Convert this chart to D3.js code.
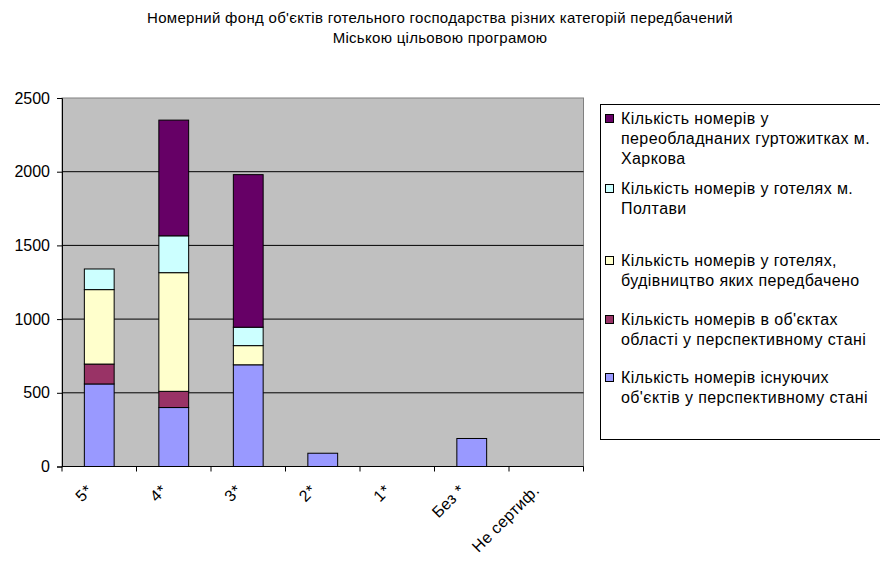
<!DOCTYPE html>
<html>
<head>
<meta charset="utf-8">
<script src="https://cdn.jsdelivr.net/npm/d3@7"></script>
<style>
  body { margin: 0; background: #fff; }
  svg { display: block; font-family: "Liberation Sans", Arial, sans-serif; }
</style>
</head>
<body>
<svg id="chart" width="880" height="565"></svg>
<script>
// Categories on the x axis
var categories = ["5*", "4*", "3*", "2*", "1*", "Без *", "Не сертиф."];
// Series values, bottom of the stack first
var existingRooms = [560, 400, 690, 90, 0, 190, 0];
var oblastRooms = [135, 110, 0, 0, 0, 0, 0];
var plannedRooms = [505, 805, 130, 0, 0, 0, 0];
var poltavaRooms = [140, 250, 125, 0, 0, 0, 0];
var kharkivRooms = [0, 785, 1035, 0, 0, 0, 0];
var yTicks = [0, 500, 1000, 1500, 2000, 2500];

var seriesNames = [
	"Кількість номерів існуючих об'єктів у перспективному стані",
	"Кількість номерів в об'єктах області у перспективному стані",
	"Кількість номерів у готелях, будівництво яких передбачено",
	"Кількість номерів у готелях м. Полтави",
	"Кількість номерів у переобладнаних гуртожитках м. Харкова"
];
// legend text broken the way the picture breaks it
var legendLines = [
	["Кількість номерів існуючих", "об'єктів у перспективному стані"],
	["Кількість номерів в об'єктах", "області у перспективному стані"],
	["Кількість номерів у готелях,", "будівництво яких передбачено"],
	["Кількість номерів у готелях м.", "Полтави"],
	["Кількість номерів у", "переобладнаних гуртожитках м.", "Харкова"]
];
var seriesColors = ["#9999ff", "#993366", "#ffffcc", "#ccffff", "#660066"];
var titleLines = [
	"Номерний фонд об'єктів готельного господарства різних категорій передбачений",
	"Міською цільовою програмою"
];

function draw() {
	const svg = d3.select("#chart");
	const left = 62, right = 583.5, top = 98, bottom = 466.5;

	// Title
	svg.append("g")
		.selectAll("text")
		.data(titleLines)
		.join("text")
		.attr("x", 440)
		.attr("y", (d, i) => 23 + i * 20)
		.attr("text-anchor", "middle")
		.attr("font-size", 15)
		.attr("letter-spacing", 0.3)
		.attr("fill", "#000")
		.text(d => d);

	// Build the table for the stack
	const keys = ["existing", "oblast", "planned", "poltava", "kharkiv"];
	const cols = [existingRooms, oblastRooms, plannedRooms, poltavaRooms, kharkivRooms];
	const rows = categories.map((c, i) => {
		let r = {cat: c};
		keys.forEach((k, j) => r[k] = cols[j][i]);
		return r;
	});
	const stacked = d3.stack().keys(keys)(rows);

	const y = d3.scaleLinear().domain([0, 2500]).range([bottom, top]);
	const x = d3.scaleBand().domain(categories).range([left, right])
		.paddingInner(0.6).paddingOuter(0.3);
	const xCat = d3.scaleBand().domain(categories).range([left, right]);

	// Plot area
	svg.append("rect")
		.attr("x", left).attr("y", top)
		.attr("width", right - left).attr("height", bottom - top)
		.attr("fill", "#c0c0c0")
		.attr("stroke", "#808080");

	// Gridlines
	svg.append("g")
		.selectAll("line")
		.data(yTicks.filter(t => t > 0 && t < 2500))
		.join("line")
		.attr("x1", left).attr("x2", right)
		.attr("y1", d => y(d)).attr("y2", d => y(d))
		.attr("stroke", "#000");

	// Bars
	const layer = svg.append("g")
		.selectAll("g")
		.data(stacked)
		.join("g")
		.attr("fill", (d, i) => seriesColors[i]);
	layer.selectAll("rect")
		.data(d => d.filter(s => s[1] - s[0] > 0))
		.join("rect")
		.attr("x", d => x(d.data.cat))
		.attr("width", x.bandwidth())
		.attr("y", d => y(d[1]))
		.attr("height", d => y(d[0]) - y(d[1]))
		.attr("stroke", "#000")
		.attr("stroke-width", 1);

	// Y axis
	const yAxis = svg.append("g")
		.attr("transform", `translate(${left},0)`)
		.call(d3.axisLeft(y).tickValues(yTicks).tickSize(5).tickPadding(7).tickFormat(d3.format("d")));
	yAxis.select(".domain").attr("stroke", "#000");
	yAxis.selectAll(".tick line").attr("stroke", "#000");
	yAxis.selectAll("text")
		.attr("font-size", 16)
		.attr("font-family", "Liberation Sans, Arial, sans-serif")
		.attr("fill", "#000");

	// X axis: ticks on category boundaries
	const bounds = categories.map(c => xCat(c)).concat([right]);
	const xg = svg.append("g");
	xg.append("line")
		.attr("x1", left).attr("x2", right)
		.attr("y1", bottom).attr("y2", bottom)
		.attr("stroke", "#000");
	xg.selectAll("line.tk")
		.data(bounds)
		.join("line")
		.classed("tk", true)
		.attr("x1", d => d).attr("x2", d => d)
		.attr("y1", bottom).attr("y2", bottom + 5)
		.attr("stroke", "#000");
	xg.selectAll("text")
		.data(categories)
		.join("text")
		.attr("text-anchor", "end")
		.attr("font-size", 16)
		.attr("letter-spacing", 0.3)
		.attr("fill", "#000")
		.attr("transform", d => `translate(${xCat(d) + xCat.bandwidth() / 2 - 6},${bottom + 25}) rotate(-45)`)
		.text(d => d);

	// Legend
	const lg = svg.append("g");
	lg.append("rect")
		.attr("x", 600.5).attr("y", 104.5)
		.attr("width", 290).attr("height", 335)
		.attr("fill", "#fff")
		.attr("stroke", "#000");
	// first baseline of each entry, top entry first
	const entryY = [124, 194, 266, 325, 383];
	const order = d3.range(seriesNames.length).reverse();
	const entries = lg.selectAll("g.entry")
		.data(order)
		.join("g")
		.classed("entry", true)
		.attr("transform", (d, i) => `translate(0,${entryY[i]})`);
	entries.append("rect")
		.attr("x", 605.5).attr("y", -9.5)
		.attr("width", 8).attr("height", 8)
		.attr("fill", d => seriesColors[d])
		.attr("stroke", "#000");
	entries.selectAll("text")
		.data(d => legendLines[d])
		.join("text")
		.attr("x", 621)
		.attr("y", (d, i) => i * 20)
		.attr("font-size", 16)
		.attr("letter-spacing", 0.4)
		.attr("fill", "#000")
		.text(d => d);
}

if (document.readyState !== "loading") {
	draw();
} else {
	document.addEventListener("DOMContentLoaded", draw);
}
</script>
</body>
</html>
